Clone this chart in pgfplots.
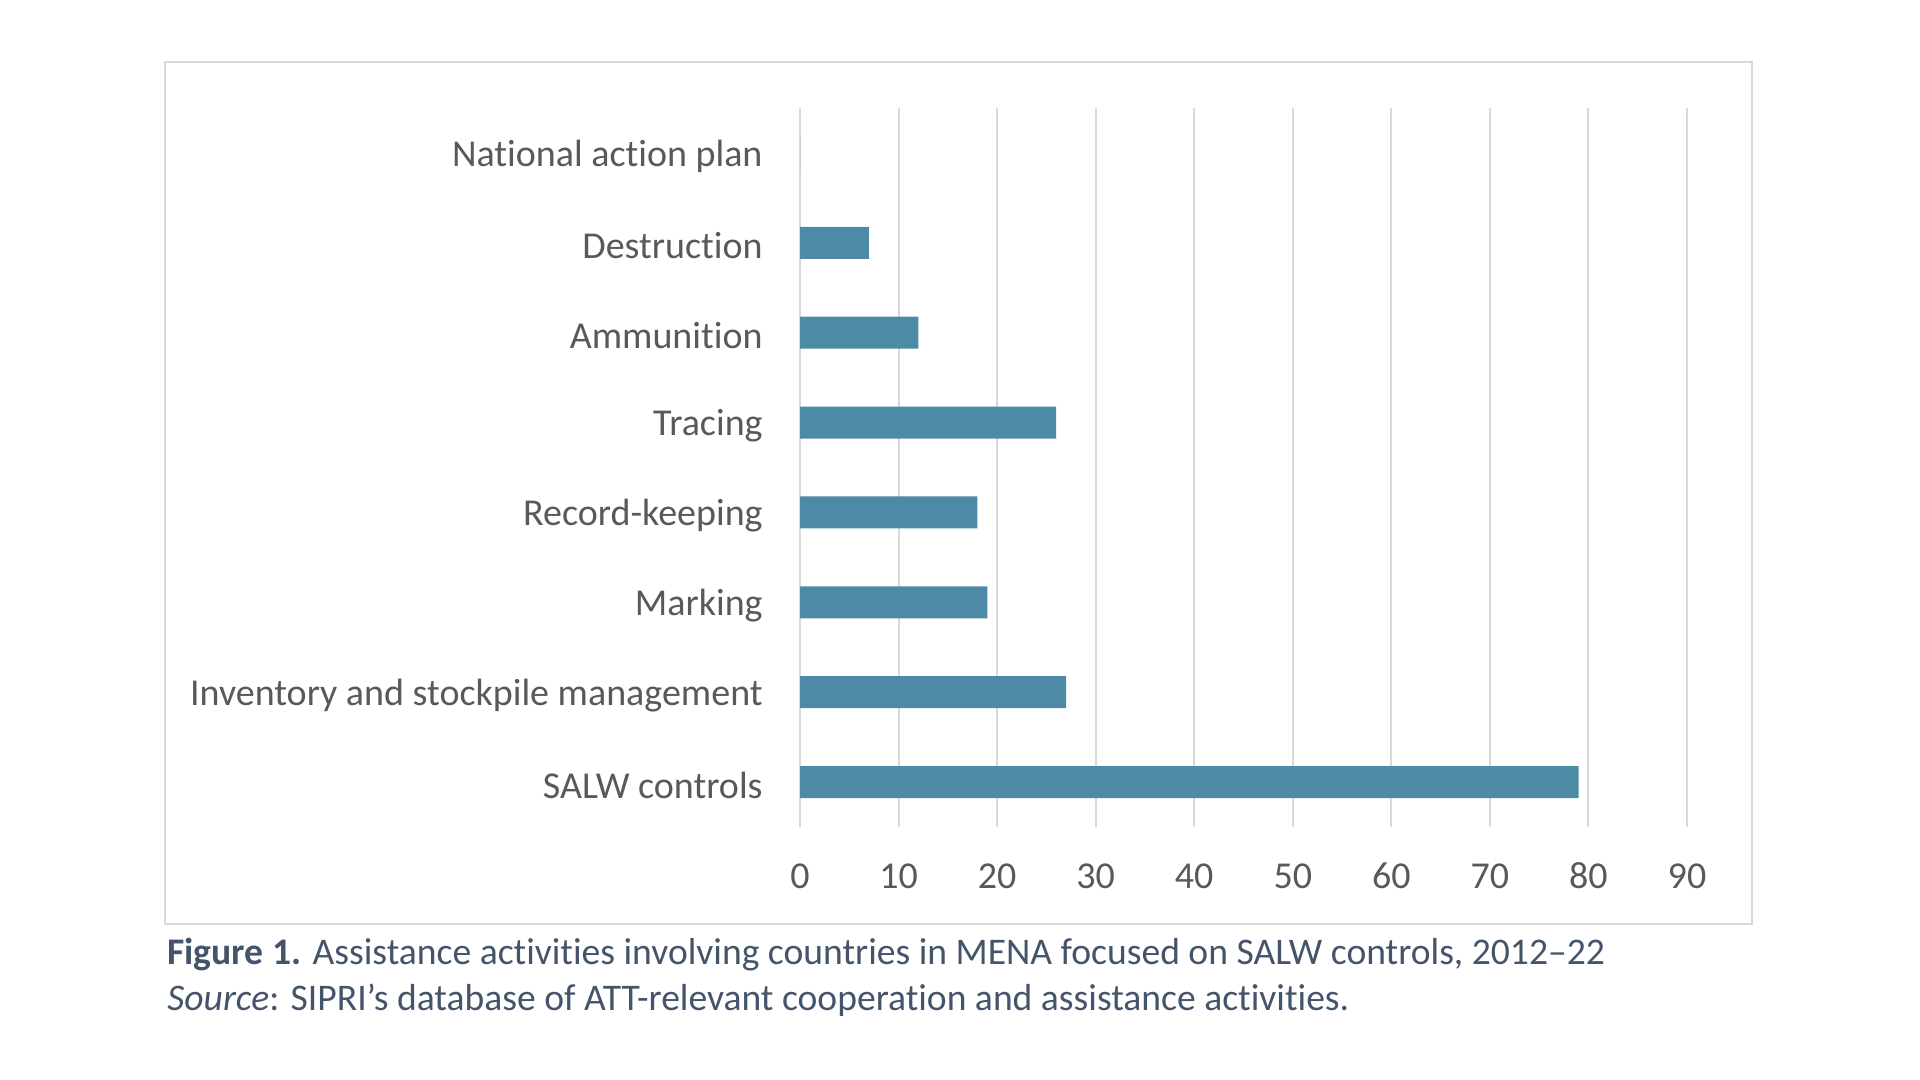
\documentclass[border=0pt]{standalone}
\usepackage{fontspec}
\setmainfont{Carlito}[Ligatures={NoCommon}]
\usepackage{pgfplots}
\pgfplotsset{compat=1.18}
\definecolor{barblue}{HTML}{4C8AA6}
\definecolor{gridgray}{HTML}{D9D9D9}
\definecolor{labelgray}{HTML}{595959}
\definecolor{capblue}{HTML}{44546A}

\begin{document}
\begin{tikzpicture}
  % page: 1920x1080 px at 0.5pt per px
  \path (0,-540pt) rectangle (960pt,0);
  \draw[gridgray, line width=1pt] (82.5pt,-31pt) rectangle (876pt,-462pt);

  \begin{axis}[
      at={(400pt,-413.5pt)}, anchor=south west,
      scale only axis,
      width=443.5pt, height=359.5pt,
      xbar, bar width=16pt,
      xmin=0, xmax=90,
      ymin=-0.5, ymax=7.5,
      xtick={0,10,...,90},
      ytick={0,...,7},
      yticklabels={SALW controls, Inventory and stockpile management, Marking,
        Record-keeping, Tracing, Ammunition, Destruction, National action plan},
      axis line style={draw=none},
      major tick length=0pt,
      xmajorgrids,
      major grid style={gridgray, line width=1pt},
      tick label style={font=\fontsize{19}{23}\selectfont, text=labelgray},
      y tick label style={anchor=east, inner sep=0pt, xshift=-18.5pt, yshift=-1.5pt},
      x tick label style={anchor=center, inner sep=0pt, yshift=-24.5pt},
      /pgf/number format/assume math mode=true,
    ]
    \addplot[fill=barblue, draw=none] coordinates {
      (79,0) (27,1) (19,2) (18,3) (26,4) (12,5) (7,6) (0,7)};
  \end{axis}

  \node[anchor=base west, text=capblue, inner sep=0pt, font=\fontsize{18.8}{22}\selectfont]
    at (83.5pt,-482pt) {\textbf{Figure 1.} Assistance activities involving countries in MENA focused on SALW controls, 2012–22};
  \node[anchor=base west, text=capblue, inner sep=0pt, font=\fontsize{18.8}{22}\selectfont]
    at (83.5pt,-505pt) {\textit{Source}: SIPRI’s database of ATT-relevant cooperation and assistance activities.};
\end{tikzpicture}
\end{document}
